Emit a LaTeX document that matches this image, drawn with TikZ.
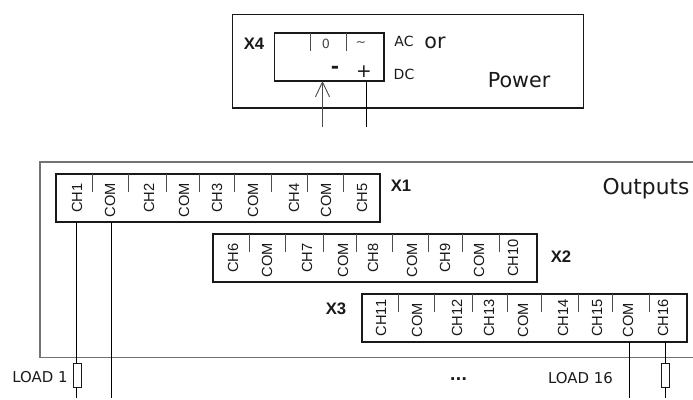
\documentclass[tikz,border=0pt]{standalone}
\usepackage{fontspec}
\setmainfont{DejaVu Sans}
\newfontfamily\arialf{Liberation Sans}
\usetikzlibrary{arrows.meta}
\definecolor{ink}{gray}{0.1}
\tikzset{x=0.75pt,y=-0.75pt,
 heavy/.style={draw=ink,line width=1.1pt},
 thin wire/.style={draw=black,line width=0.7pt},
 gray box/.style={draw=black!55,line width=0.9pt},
 divider/.style={draw=black!70,line width=0.6pt},
 pin/.style={font=\arialf\fontsize{11}{12}\selectfont,rotate=90,inner sep=0pt,text=ink},
 tag/.style={font=\arialf\bfseries\fontsize{12.5}{14}\selectfont,inner sep=0pt,text=ink},
 note/.style={font=\fontsize{10.5}{12}\selectfont,inner sep=0pt,text=ink},
 small note/.style={font=\fontsize{9.5}{12}\selectfont,inner sep=0pt,text=ink!80},
 load label/.style={font=\fontsize{11.2}{13}\selectfont,inner sep=0pt,text=ink},
 big/.style={font=\fontsize{15.5}{18}\selectfont,inner sep=0pt,text=ink},
 loadbox/.style={draw=ink,line width=0.7pt,fill=white,minimum width=6.6pt,minimum height=18pt,inner sep=0pt}}
\begin{document}
\begin{tikzpicture}
\useasboundingbox (0,0) rectangle (693,400);
% power
\draw[heavy] (232.5,14.5) rectangle (583.5,108);
\draw[heavy] (274.7,33) rectangle (384,81);
\coordinate (pm) at (322.5,81); \coordinate (pp) at (366,81);
\coordinate (pmend) at (322.5,127); \coordinate (ppend) at (366,127);
\foreach \x in {310,346} \draw[divider] (\x,33) -- (\x,51);
\node[small note] at (326,44) {0};
\node[small note] at (361,44) {\textasciitilde};
\node[font=\bfseries\fontsize{15}{16}\selectfont,inner sep=0pt,text=ink] at (335,70) {-};
\node[font=\fontsize{14}{15}\selectfont,inner sep=0pt,text=ink] at (364,71.5) {+};
\node[tag] at (254,44) {X4};
\node[note] at (404,41) {AC};
\node[big] at (435,43) {or};
\node[note] at (404,74) {DC};
\node[big] at (519,80) {Power};
\draw[thin wire,draw=black!70,-{Straight Barb[length=11pt,width=10.5pt]}] (pmend) -- (pm);
\draw[thin wire] (ppend) -- (pp);
% outer
\draw[gray box] (693,162) -- (40,162) -- (40,357.5) -- (693,357.5);
\node[big,font=\fontsize{16.3}{18}\selectfont] at (646,189) {Outputs};
% X1
\draw[heavy] (56,174) rectangle (380,222);
\foreach \x in {92,128,166,199,234,271,307,343} \draw[divider] (\x,174) -- (\x,192);
\foreach \x/\t/\y in {77/CH1/198,110/COM/200,149/CH2/198,184/COM/200,217/CH3/198,253/COM/200,294/CH4/198,326/COM/200,362/CH5/198}
  \node[pin] at (\x,\y) {\t};
\node[tag] at (401,186) {X1};
% X2
\draw[heavy] (213,234) rectangle (537,282);
\foreach \x in {249,285,323,356,392,428,462,499} \draw[divider] (\x,234) -- (\x,252);
\foreach \x/\t/\y in {233/CH6/258,267/COM/260,307/CH7/258,343/COM/260,373/CH8/258,412/COM/260,445/CH9/258,479/COM/260,513/CH10/258}
  \node[pin] at (\x,\y) {\t};
\node[tag] at (561,257) {X2};
% X3
\draw[heavy] (362,294) rectangle (687,342);
\foreach \x in {398,434,472,507,541,578,612,649} \draw[divider] (\x,294) -- (\x,312);
\foreach \x/\t/\y in {381/CH11/318,417/COM/320,457/CH12/318,489/CH13/318,523/COM/320,563/CH14/318,597/CH15/318,628/COM/320,663/CH16/318}
  \node[pin] at (\x,\y) {\t};
\node[tag] at (336,309) {X3};
% wires
\node[loadbox] (l1) at (77.5,375) {};
\node[loadbox] (l16) at (665.5,375) {};
\coordinate (a1) at (76.5,222); \coordinate (a2) at (76.5,398);
\coordinate (b1) at (111,222); \coordinate (b2) at (111,398);
\coordinate (c1) at (629,342); \coordinate (c2) at (629,398);
\coordinate (d1) at (665,342); \coordinate (d2) at (665,398);
\draw[thin wire] (a1) -- (a1 |- l1.north);
\draw[thin wire] (a1 |- l1.south) -- (a2);
\draw[thin wire] (b1) -- (b2);
\draw[thin wire] (c1) -- (c2);
\draw[thin wire] (d1) -- (d1 |- l16.north);
\draw[thin wire] (d1 |- l16.south) -- (d2);
\node[load label] at (40,377) {LOAD 1};
\node[load label] at (580.5,378) {LOAD 16};
\node[font=\bfseries\fontsize{11.5}{14}\selectfont,inner sep=0pt,text=ink] at (458.5,379) {...};
\end{tikzpicture}
\end{document}
